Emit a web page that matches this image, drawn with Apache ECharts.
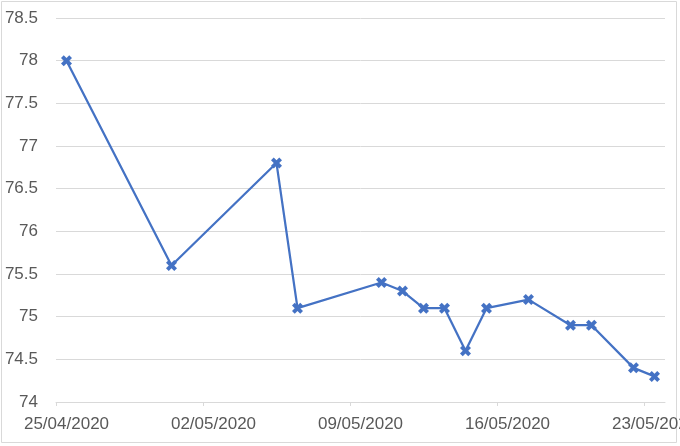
<!DOCTYPE html>
<html>
<head>
<meta charset="utf-8">
<script src="https://cdn.jsdelivr.net/npm/echarts@6/dist/echarts.min.js"></script>
<style>
  html, body { margin: 0; padding: 0; background: #fff; }
  #chart { width: 680px; height: 446px; }
</style>
</head>
<body>
<div id="chart"></div>
<script>
// dates of the readings and the values
var dates = ['25/04/2020', '30/04/2020', '05/05/2020', '06/05/2020', '10/05/2020', '11/05/2020',
             '12/05/2020', '13/05/2020', '14/05/2020', '15/05/2020', '17/05/2020', '19/05/2020',
             '20/05/2020', '22/05/2020', '23/05/2020']
var values = [78, 75.6, 76.8, 75.1, 75.4, 75.3, 75.1, 75.1, 74.6, 75.1, 75.2, 74.9, 74.9, 74.4, 74.3]
var tickLabels = ['25/04/2020', '02/05/2020', '09/05/2020', '16/05/2020', '23/05/2020']

var DAY = 86400000
function parseDate(s) {
	var p = s.split('/')
	return Date.UTC(+p[2], +p[1] - 1, +p[0])
}
function fmt(t) {
	var d = new Date(t)
	var dd = ('0' + d.getUTCDate()).slice(-2)
	var mm = ('0' + (d.getUTCMonth() + 1)).slice(-2)
	return dd + '/' + mm + '/' + d.getUTCFullYear()
}

var xMin = parseDate(tickLabels[0])
var xMax = parseDate(tickLabels[tickLabels.length - 1]) + DAY
// points sit in the middle of their day, like an Excel date axis
var points = dates.map(function (d, i) { return [parseDate(d) + DAY / 2, values[i]] })
var tickPos = tickLabels.map(parseDate)
var labelPos = tickPos.map(function (t) { return t + DAY / 2 })

var labelColor = '#595959'
var gridColor = '#d9d9d9'
var lineColor = '#4472c4'

var myChart = echarts.init(document.getElementById('chart'))
myChart.setOption({
	animation: false,
	grid: { left: 56, right: 15, top: 18, bottom: 44, containLabel: false, outerBoundsMode: 'none' },
	xAxis: {
		type: 'value',
		min: xMin,
		max: xMax,
		axisLine: { show: true, lineStyle: { color: gridColor, width: 1 } },
		axisTick: { show: true, customValues: tickPos, length: 4, lineStyle: { color: gridColor } },
		axisLabel: {
			customValues: labelPos,
			formatter: function (v) { return fmt(v - DAY / 2) },
			color: labelColor,
			fontFamily: 'Liberation Sans',
			fontSize: 17,
			margin: 14,
			hideOverlap: false
		},
		splitLine: { show: false }
	},
	yAxis: {
		type: 'value',
		min: 74,
		max: 78.5,
		interval: 0.5,
		axisLine: { show: false },
		axisTick: { show: false },
		axisLabel: {
			color: labelColor,
			fontFamily: 'Liberation Sans',
			fontSize: 17,
			margin: 18
		},
		splitLine: { lineStyle: { color: gridColor, width: 1 } }
	},
	graphic: [{
		type: 'rect',
		shape: { x: 1.5, y: 1.5, width: 675, height: 441 },
		style: { fill: 'none', stroke: gridColor, lineWidth: 1 },
		silent: true
	}],
	series: [{
		type: 'line',
		data: points,
		symbol: 'path://M2.5,0 L5,2.5 L7.5,0 L10,2.5 L7.5,5 L10,7.5 L7.5,10 L5,7.5 L2.5,10 L0,7.5 L2.5,5 L0,2.5 Z',
		symbolSize: 11,
		showAllSymbol: true,
		itemStyle: { color: lineColor },
		lineStyle: { color: lineColor, width: 2.25 }
	}]
})
</script>
</body>
</html>
